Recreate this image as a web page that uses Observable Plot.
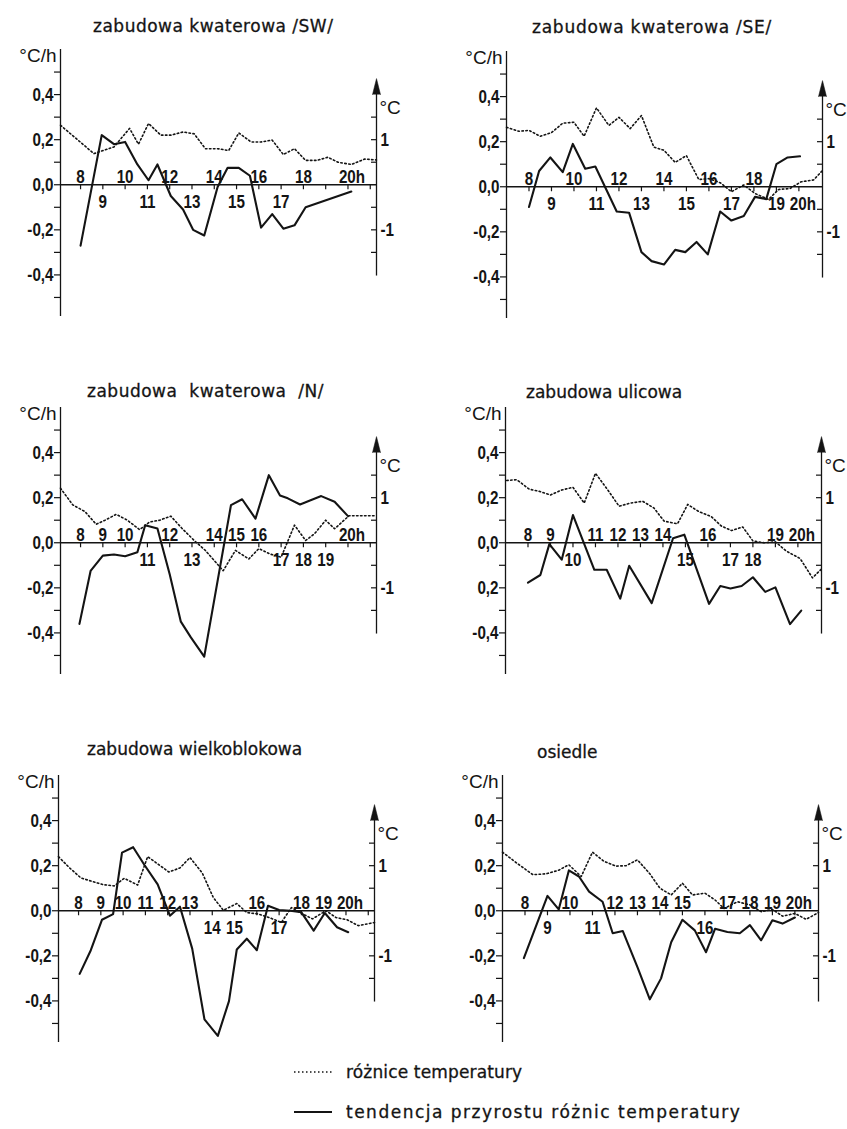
<!DOCTYPE html>
<html lang="pl">
<head>
<meta charset="utf-8">
<script src="https://cdn.jsdelivr.net/npm/d3@7"></script>
<script src="https://cdn.jsdelivr.net/npm/@observablehq/plot@0.6"></script>
<style>
  html, body { margin: 0; background: #fff; }
  #page { position: relative; width: 847px; height: 1129px; overflow: hidden; color: #141414; background: #fff; }
  #page svg.panel { position: absolute; overflow: visible; }
  .title { position: absolute; font-family: "DejaVu Sans", sans-serif; font-size: 17px; line-height: 20px; white-space: nowrap; -webkit-text-stroke: 0.3px #141414; }
  .legend { position: absolute; left: 292px; font-family: "DejaVu Sans", sans-serif; font-size: 17px; line-height: 20px; white-space: nowrap; display: flex; align-items: center; -webkit-text-stroke: 0.3px #141414; }
  .legend svg { margin-right: 12px; }
</style>
</head>
<body>
<div id="page"></div>
<script>
// ---- axis definitions ----
const leftTicks = [-0.5, -0.4, -0.3, -0.2, -0.1, 0, 0.1, 0.2, 0.3, 0.4, 0.5];
const leftLabelValues = [0.4, 0.2, 0, -0.2, -0.4];
const leftLabels = ["0,4", "0,2", "0,0", "-0,2", "-0,4"];
const leftLabelsUlicowa = ["0,4", "0,2", "0,0", "0,2", "-0,4"];
const rightTicks = [-1.5, -1, -0.5, 0.5, 1, 1.5];
const rightLabelValues = [1, -1];
const rightLabels = ["1", "-1"];
const hourTicks = [8, 9, 10, 11, 12, 13, 14, 15, 16, 17, 18, 19, 20, 21];

// ---- zabudowa kwaterowa /SW/ ----
const swTendHours = [8, 8.95, 9.5, 10, 10.55, 11.05, 11.45, 12.05, 12.6, 13.05, 13.55, 14.15, 14.6, 15.1, 15.6, 16.1, 16.6, 17.1, 17.6, 18.1, 20.15];
const swTend = [-0.27, 0.22, 0.18, 0.19, 0.09, 0.02, 0.09, -0.05, -0.11, -0.2, -0.225, -0.01, 0.075, 0.075, 0.04, -0.19, -0.13, -0.195, -0.18, -0.1, -0.03];
const swDiffHours = [7.1, 8.6, 9.5, 10.2, 10.6, 11.05, 11.6, 12.05, 12.6, 13.1, 13.6, 14.15, 14.65, 15.1, 15.65, 16.1, 16.6, 17.1, 17.6, 18.1, 18.6, 19.1, 19.55, 20.15, 20.75, 21.28];
const swDiff = [1.32, 0.69, 0.84, 1.25, 0.9, 1.36, 1.1, 1.1, 1.17, 1.13, 0.8, 0.8, 0.76, 1.15, 0.95, 0.95, 0.99, 0.67, 0.8, 0.54, 0.54, 0.61, 0.5, 0.45, 0.57, 0.55];
const swHoursAbove = [8, 10, 12, 14, 16, 18, 20];
const swHoursBelow = [9, 11, 13, 15, 17];

// ---- zabudowa kwaterowa /SE/ ----
const seTendHours = [8, 8.45, 8.95, 9.5, 9.95, 10.5, 10.95, 11.9, 12.45, 13, 13.45, 14, 14.5, 14.95, 15.45, 15.95, 16.5, 17, 17.55, 18.05, 18.55, 19, 19.5, 20.05];
const seTend = [-0.09, 0.07, 0.13, 0.065, 0.19, 0.08, 0.09, -0.11, -0.115, -0.29, -0.33, -0.345, -0.28, -0.29, -0.245, -0.3, -0.11, -0.15, -0.13, -0.045, -0.055, 0.1, 0.13, 0.135];
const seDiffHours = [7, 7.55, 8, 8.5, 9, 9.5, 10, 10.45, 11, 11.55, 12, 12.5, 13, 13.55, 14, 14.5, 15, 15.55, 16, 16.5, 17, 17.55, 18.05, 18.65, 19.1, 19.6, 20.1, 20.65, 21.05];
const seDiff = [1.32, 1.23, 1.25, 1.12, 1.2, 1.41, 1.43, 1.12, 1.75, 1.36, 1.54, 1.29, 1.58, 0.88, 0.81, 0.54, 0.69, 0.16, 0.18, 0.09, -0.11, 0.04, -0.15, -0.28, -0.06, -0.04, 0.11, 0.15, 0.36];
const seHoursAbove = [8, 10, 12, 14, 16, 18];
const seHoursBelow = [9, 11, 13, 15, 17, 19, 20];

// ---- zabudowa kwaterowa /N/ ----
const nTendHours = [7.95, 8.45, 9, 9.5, 10, 10.55, 10.9, 11.45, 12, 12.5, 12.95, 13.55, 14.75, 15.25, 15.85, 16.45, 16.95, 17.3, 17.85, 18.35, 18.8, 19.4, 20];
const nTend = [-0.36, -0.125, -0.057, -0.052, -0.06, -0.042, 0.078, 0.063, -0.14, -0.35, -0.42, -0.505, 0.167, 0.193, 0.107, 0.3, 0.21, 0.197, 0.17, 0.19, 0.207, 0.182, 0.118];
const nDiffHours = [7.1, 7.65, 8.2, 8.7, 9.1, 9.6, 10.1, 10.65, 11.1, 11.55, 12.05, 12.55, 13.1, 13.6, 14.4, 14.95, 15.55, 16, 16.5, 17, 17.6, 18.1, 18.5, 19, 19.4, 20.05, 20.6, 21.28];
const nDiff = [1.21, 0.84, 0.69, 0.41, 0.5, 0.63, 0.5, 0.29, 0.46, 0.5, 0.59, 0.32, 0.05, -0.17, -0.62, -0.17, -0.36, -0.13, -0.25, -0.32, 0.39, 0.05, 0.2, 0.5, 0.31, 0.6, 0.6, 0.6];
const nHoursAbove = [8, 9, 10, 12, 14, 15, 16, 20];
const nHoursBelow = [11, 13, 17, 18, 19];

// ---- zabudowa ulicowa ----
const ulTendHours = [8, 8.55, 8.95, 9.5, 10, 10.95, 11.5, 12.1, 12.5, 13.5, 14.45, 14.95, 16.05, 16.55, 17, 17.5, 18, 18.55, 19, 19.65, 20.15];
const ulTend = [-0.177, -0.143, -0.006, -0.075, 0.123, -0.12, -0.12, -0.248, -0.102, -0.268, 0.02, 0.036, -0.271, -0.192, -0.203, -0.192, -0.153, -0.218, -0.198, -0.361, -0.301];
const ulDiffHours = [7.05, 7.5, 8.05, 8.5, 9, 9.5, 10, 10.5, 11, 11.55, 12.05, 12.55, 13.1, 13.6, 14.05, 14.65, 15.1, 15.6, 16.15, 16.6, 17.05, 17.55, 18, 18.5, 19, 19.5, 20.1, 20.65, 21.05];
const ulDiff = [1.38, 1.4, 1.19, 1.14, 1.06, 1.17, 1.23, 0.88, 1.54, 1.17, 0.81, 0.88, 0.92, 0.77, 0.48, 0.42, 0.85, 0.69, 0.58, 0.37, 0.27, 0.35, 0.04, 0, 0.02, -0.19, -0.35, -0.78, -0.58];
const ulHoursAbove = [8, 9, 11, 12, 13, 14, 16, 19, 20];
const ulHoursBelow = [10, 15, 17, 18];

// ---- zabudowa wielkoblokowa ----
const wbTendHours = [8.05, 8.55, 9.05, 9.55, 9.95, 10.45, 10.95, 11.55, 12.1, 12.55, 13.1, 13.65, 14.25, 14.75, 15.1, 15.55, 16, 16.5, 17, 17.5, 18, 18.55, 19.05, 19.6, 20.1];
const wbTend = [-0.28, -0.175, -0.04, -0.015, 0.258, 0.282, 0.204, 0.117, -0.022, 0.018, -0.168, -0.482, -0.555, -0.401, -0.172, -0.124, -0.175, 0.022, 0.003, 0, -0.007, -0.088, -0.01, -0.073, -0.095];
const wbDiffHours = [7.1, 7.6, 8.1, 8.55, 9.1, 9.6, 10.05, 10.65, 11.1, 11.55, 12.05, 12.55, 13, 13.55, 14.05, 14.5, 15.1, 15.55, 16.05, 16.55, 17.1, 17.55, 18.05, 18.5, 19.1, 19.55, 20.05, 20.55, 21.28];
const wbDiff = [1.2, 0.95, 0.73, 0.66, 0.58, 0.55, 0.72, 0.57, 1.2, 1.04, 0.86, 0.95, 1.18, 0.84, 0.29, 0.01, 0.16, -0.04, -0.07, -0.15, -0.26, 0.07, -0.07, -0.18, 0, -0.15, -0.2, -0.33, -0.26];
const wbHoursAbove = [8, 9, 10, 11, 12, 13, 16, 18, 19, 20];
const wbHoursBelow = [14, 15, 17];

// ---- osiedle ----
const osTendHours = [7.95, 9, 9.5, 9.95, 10.4, 10.85, 11.45, 11.9, 12.35, 13, 13.55, 14.05, 14.5, 15, 15.55, 16.05, 16.45, 17, 17.55, 18, 18.5, 19, 19.45, 20];
const osTend = [-0.21, 0.066, 0.006, 0.179, 0.152, 0.085, 0.04, -0.1, -0.09, -0.25, -0.393, -0.3, -0.14, -0.04, -0.087, -0.184, -0.08, -0.094, -0.1, -0.064, -0.131, -0.042, -0.057, -0.03];
const osDiffHours = [7, 7.6, 8.35, 8.95, 9.5, 9.95, 10.5, 11, 11.5, 12.05, 12.5, 13, 13.55, 14, 14.5, 15, 15.45, 16, 16.45, 16.85, 17.45, 18, 18.5, 19, 19.45, 20, 20.5, 21.05];
const osDiff = [1.3, 1.07, 0.8, 0.82, 0.9, 1.02, 0.76, 1.3, 1.1, 0.99, 1, 1.13, 0.82, 0.5, 0.35, 0.61, 0.35, 0.39, 0.24, 0.05, 0.2, 0.13, -0.02, 0.03, -0.12, -0.06, -0.19, -0.04];
const osHoursAbove = [8, 10, 12, 13, 14, 15, 17, 18, 19, 20];
const osHoursBelow = [9, 11, 16];

// ---- legend ----
const legendLabels = ["różnice temperatury", "tendencja przyrostu różnic temperatury"];

// ---- drawing ----
const INK = "#141414";
const NUM_FONT = '"Liberation Sans", Arial, sans-serif';
const NARROW = 0.8;               // horizontal squeeze of the numeric lettering
const DEG_TO_RATE = 0.2;          // 1 °C on the right axis sits at 0.2 °C/h on the left axis
const DOTS = "1.5,2.5";
const LABEL = {fontSize: 19, fontWeight: "bold", fill: INK};
const UNIT = {fontSize: 19, fill: INK};

const W = 430, H = 304, ML = 60, MR = 54, MT = 10, MB = 10;
const Y_DOMAIN = [-0.62, 0.64];
const Y_ZERO = MT + Y_DOMAIN[1] / (Y_DOMAIN[1] - Y_DOMAIN[0]) * (H - MT - MB);

function arrowHead(h1) {
  if (Plot.spike) {
    return Plot.vector([0], {x: h1, y: 0.4, length: 16, r: 4, shape: "spike", anchor: "start",
      fill: INK, fillOpacity: 1, stroke: INK, strokeWidth: 0.5});
  }
  return Plot.dot([0], {x: h1, y: 0.44, symbol: "triangle", r: 4, fill: INK, stroke: "none"});
}

// squeeze the numerals horizontally about their own anchor point (unit labels stay as they are)
function narrowText(svg) {
  svg.querySelectorAll("text").forEach(t => {
    if (t.textContent.includes("°")) return;
    let tr = t.getAttribute("transform") || "";
    const xa = t.getAttribute("x");
    if (xa !== null && xa !== "" && !isNaN(+xa) && +xa !== 0) {
      tr += ` translate(${+xa},0)`;
      t.setAttribute("x", 0);
    }
    t.setAttribute("transform", `${tr} scale(${NARROW},1)`);
  });
}

function drawPanel(p) {
  const tend = p.tendHours.map((h, i) => ({h, v: p.tend[i]}));
  const diff = p.diffHours.map((h, i) => ({h, v: p.diff[i] * DEG_TO_RATE}));
  const [h0, h1] = p.hours;
  const plain = d => String(d);
  const svg = Plot.plot({
    width: W, height: H,
    marginLeft: ML, marginRight: MR, marginTop: MT, marginBottom: MB,
    x: {domain: [h0, h1], axis: null},
    y: {domain: Y_DOMAIN, axis: null},
    style: {fontFamily: NUM_FONT, fontSize: "19px", color: INK, background: "transparent", overflow: "visible"},
    marks: [
      // left axis (°C/h)
      Plot.ruleX([h0], {y1: -0.585, y2: 0.6, stroke: INK, strokeWidth: 1.3}),
      Plot.ruleY(leftTicks, {y: d => d, x1: h0, x2: h0, insetLeft: -6, stroke: INK, strokeWidth: 1.2}),
      Plot.text(leftLabelValues, {y: d => d, x: h0, text: (d, i) => p.leftLabels[i], textAnchor: "end", dx: -7, ...LABEL}),
      Plot.text(["°C/h"], {x: h0, y: 0.57, text: d => d, textAnchor: "end", dx: -4, ...UNIT}),
      // right axis (°C)
      Plot.ruleX([h1], {y1: -0.405, y2: 0.42, stroke: INK, strokeWidth: 1.3}),
      Plot.ruleY(rightTicks, {y: d => d * DEG_TO_RATE, x1: h1, x2: h1, insetLeft: -5, stroke: INK, strokeWidth: 1.2}),
      Plot.text(rightLabelValues, {y: d => d * DEG_TO_RATE, x: h1, text: (d, i) => rightLabels[i], textAnchor: "start", dx: 4, ...LABEL}),
      Plot.text(["°C"], {x: h1, y: 0.34, text: d => d, textAnchor: "start", dx: 3, ...UNIT}),
      arrowHead(h1),
      // time axis along zero
      Plot.ruleY([0], {x1: h0, x2: h1, stroke: INK, strokeWidth: 1.3}),
      Plot.ruleX(hourTicks.filter(h => h < h1 - 0.1), {x: d => d, y1: 0, y2: 0, insetBottom: -5, stroke: INK, strokeWidth: 1.2}),
      Plot.text(p.above.filter(h => h !== 20), {x: d => d, y: 0, text: plain, lineAnchor: "bottom", dy: -2, ...LABEL}),
      Plot.text(p.above.filter(h => h === 20), {x: d => d, y: 0, text: d => d + "h", lineAnchor: "bottom", dy: -2, dx: 4, ...LABEL}),
      Plot.text(p.below.filter(h => h !== 20), {x: d => d, y: 0, text: plain, lineAnchor: "top", dy: 10, ...LABEL}),
      Plot.text(p.below.filter(h => h === 20), {x: d => d, y: 0, text: d => d + "h", lineAnchor: "top", dy: 10, dx: 4, ...LABEL}),
      // series
      Plot.line(diff, {x: "h", y: "v", stroke: INK, strokeWidth: 1.6, strokeDasharray: DOTS, strokeLinejoin: "round"}),
      Plot.line(tend, {x: "h", y: "v", stroke: INK, strokeWidth: 2.1, strokeLinejoin: "round", strokeLinecap: "round"})
    ]
  });
  svg.classList.add("panel");
  narrowText(svg);
  return svg;
}

const LEFT_HOURS = [7.1, 21.28];
const RIGHT_HOURS = [7.0, 21.05];

const panels = [
  {title: "zabudowa kwaterowa /SW/", tendHours: swTendHours, tend: swTend, diffHours: swDiffHours, diff: swDiff,
   above: swHoursAbove, below: swHoursBelow, leftLabels, hours: LEFT_HOURS},
  {title: "zabudowa kwaterowa /SE/", tendHours: seTendHours, tend: seTend, diffHours: seDiffHours, diff: seDiff,
   above: seHoursAbove, below: seHoursBelow, leftLabels, hours: RIGHT_HOURS},
  {title: "zabudowa kwaterowa /N/", tendHours: nTendHours, tend: nTend, diffHours: nDiffHours, diff: nDiff,
   above: nHoursAbove, below: nHoursBelow, leftLabels, hours: LEFT_HOURS},
  {title: "zabudowa ulicowa", tendHours: ulTendHours, tend: ulTend, diffHours: ulDiffHours, diff: ulDiff,
   above: ulHoursAbove, below: ulHoursBelow, leftLabels: leftLabelsUlicowa, hours: RIGHT_HOURS},
  {title: "zabudowa wielkoblokowa", tendHours: wbTendHours, tend: wbTend, diffHours: wbDiffHours, diff: wbDiff,
   above: wbHoursAbove, below: wbHoursBelow, leftLabels, hours: LEFT_HOURS},
  {title: "osiedle", tendHours: osTendHours, tend: osTend, diffHours: osDiffHours, diff: osDiff,
   above: osHoursAbove, below: osHoursBelow, leftLabels, hours: RIGHT_HOURS}
];

// page placement: left axis x, zero line y, title x, title centre y, title letter / word spacing
const placement = [
  {axisX: 60, zeroY: 184, titleX: 93, titleY: 27, track: 0.5, gap: 0},
  {axisX: 506, zeroY: 186.5, titleX: 532, titleY: 28, track: 0.75, gap: 0},
  {axisX: 59.5, zeroY: 542.3, titleX: 87, titleY: 392, track: 0.5, gap: 6},
  {axisX: 504.5, zeroY: 542.3, titleX: 526, titleY: 393, track: 0, gap: 0},
  {axisX: 57.5, zeroY: 910, titleX: 87, titleY: 750, track: 0, gap: 0},
  {axisX: 502, zeroY: 910.5, titleX: 537, titleY: 753, track: 0, gap: 0}
];

const page = document.getElementById("page");
panels.forEach((p, i) => {
  const pos = placement[i];
  const svg = drawPanel(p);
  svg.style.left = (pos.axisX - ML) + "px";
  svg.style.top = (pos.zeroY - Y_ZERO) + "px";
  page.appendChild(svg);
  const t = document.createElement("div");
  t.className = "title";
  t.textContent = p.title;
  t.style.left = pos.titleX + "px";
  t.style.top = (pos.titleY - 11) + "px";
  t.style.letterSpacing = pos.track + "px";
  t.style.wordSpacing = pos.gap + "px";
  page.appendChild(t);
});

// legend
const legendStyles = [{dash: DOTS, width: 1.6, tracking: 0.15}, {dash: null, width: 2.1, tracking: 1.5}];
const legendY = [1072, 1112];
legendLabels.forEach((label, i) => {
  const row = document.createElement("div");
  row.className = "legend";
  row.style.top = (legendY[i] - 10) + "px";
  const ns = "http://www.w3.org/2000/svg";
  const s = document.createElementNS(ns, "svg");
  s.setAttribute("width", 42);
  s.setAttribute("height", 20);
  const ln = document.createElementNS(ns, "line");
  ln.setAttribute("x1", 2); ln.setAttribute("x2", 40);
  ln.setAttribute("y1", 10); ln.setAttribute("y2", 10);
  ln.setAttribute("stroke", INK);
  ln.setAttribute("stroke-width", legendStyles[i].width);
  if (legendStyles[i].dash) ln.setAttribute("stroke-dasharray", legendStyles[i].dash);
  s.appendChild(ln);
  const span = document.createElement("span");
  span.textContent = label;
  span.style.letterSpacing = legendStyles[i].tracking + "px";
  row.appendChild(s);
  row.appendChild(span);
  page.appendChild(row);
});
</script>
</body>
</html>
